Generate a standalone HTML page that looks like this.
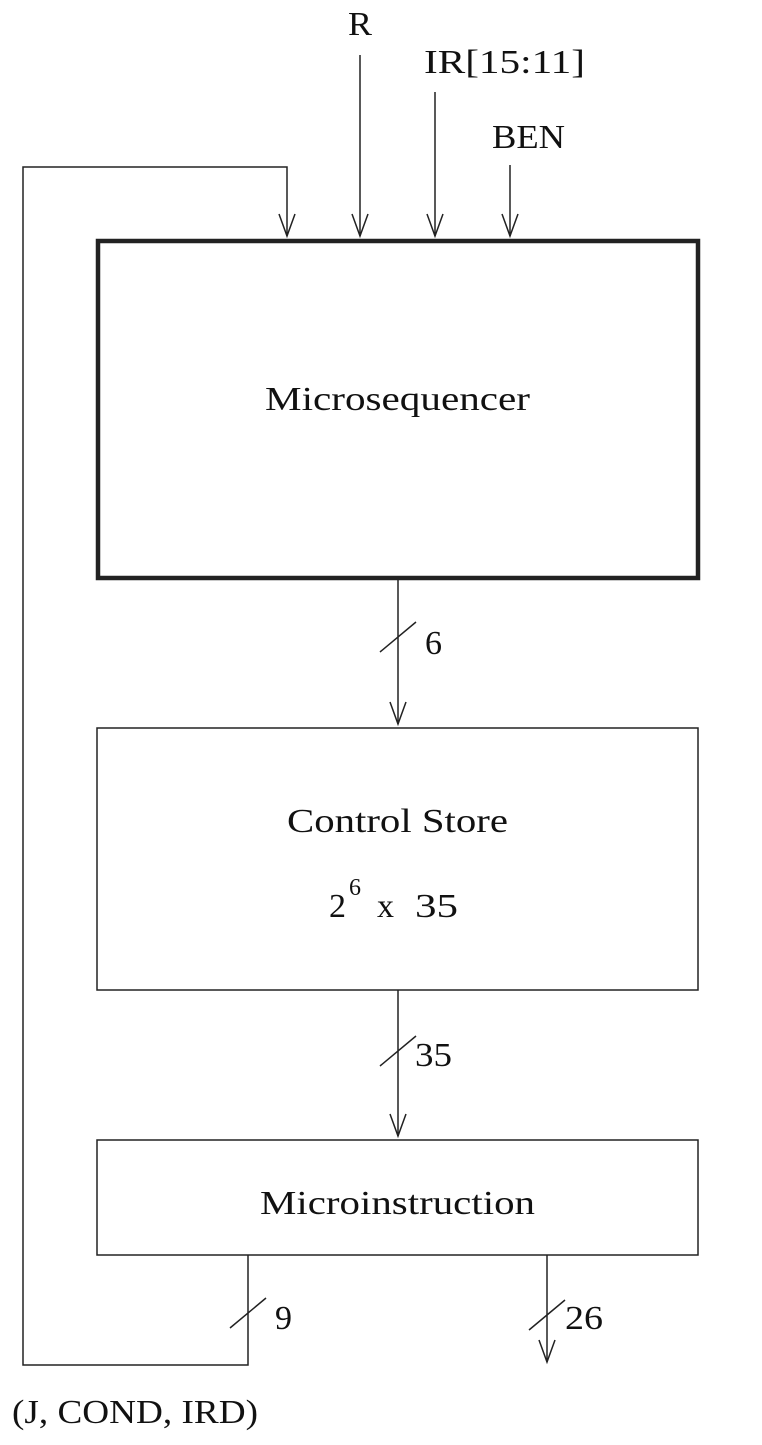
<!DOCTYPE html>
<html><head><meta charset="utf-8"><style>html,body{margin:0;padding:0;background:#fff}</style></head>
<body>
<svg width="762" height="1440" viewBox="0 0 762 1440" xmlns="http://www.w3.org/2000/svg" font-family="Liberation Serif, serif" fill="none" stroke="#222">
<g stroke-width="1.5">
<polyline points="248,1255 248,1365 23,1365 23,167 287,167 287,236"/>
<path d="M279,214 L287,236 L295,214"/>
<line x1="360" y1="55" x2="360" y2="236"/><path d="M352,214 L360,236 L368,214"/>
<line x1="435" y1="92" x2="435" y2="236"/><path d="M427,214 L435,236 L443,214"/>
<line x1="510" y1="165" x2="510" y2="236"/><path d="M502,214 L510,236 L518,214"/>
<line x1="398" y1="580" x2="398" y2="724"/><path d="M390,702 L398,724 L406,702"/>
<line x1="380" y1="652" x2="416" y2="622"/>
<line x1="398" y1="990" x2="398" y2="1136"/><path d="M390,1114 L398,1136 L406,1114"/>
<line x1="380" y1="1066" x2="416" y2="1036"/>
<line x1="547" y1="1255" x2="547" y2="1362"/><path d="M539,1340 L547,1362 L555,1340"/>
<line x1="529" y1="1330" x2="565" y2="1300"/>
<line x1="230" y1="1328" x2="266" y2="1298"/>
<rect x="97" y="728" width="601" height="262"/>
<rect x="97" y="1140" width="601" height="115"/>
</g>
<rect x="98" y="241" width="600" height="337" stroke-width="4.5"/>
<g fill="#111" stroke="none" font-size="34">
<text x="348" y="35" textLength="24" lengthAdjust="spacingAndGlyphs">R</text>
<text x="424" y="73" textLength="161" lengthAdjust="spacingAndGlyphs">IR[15:11]</text>
<text x="492" y="148" textLength="73" lengthAdjust="spacingAndGlyphs">BEN</text>
<text x="265" y="410" textLength="265" lengthAdjust="spacingAndGlyphs">Microsequencer</text>
<text x="287" y="832" textLength="221" lengthAdjust="spacingAndGlyphs">Control Store</text>
<text x="329" y="917">2</text><text x="349" y="895" font-size="24">6</text><text x="377" y="917">x</text><text x="415" y="917" textLength="43" lengthAdjust="spacingAndGlyphs">35</text>
<text x="260" y="1214" textLength="275" lengthAdjust="spacingAndGlyphs">Microinstruction</text>
<text x="425" y="654">6</text>
<text x="415" y="1066" textLength="37" lengthAdjust="spacingAndGlyphs">35</text>
<text x="275" y="1329">9</text>
<text x="565" y="1329" textLength="38" lengthAdjust="spacingAndGlyphs">26</text>
<text x="12" y="1423" textLength="246" lengthAdjust="spacingAndGlyphs">(J, COND, IRD)</text>
</g>
</svg>
</body></html>
